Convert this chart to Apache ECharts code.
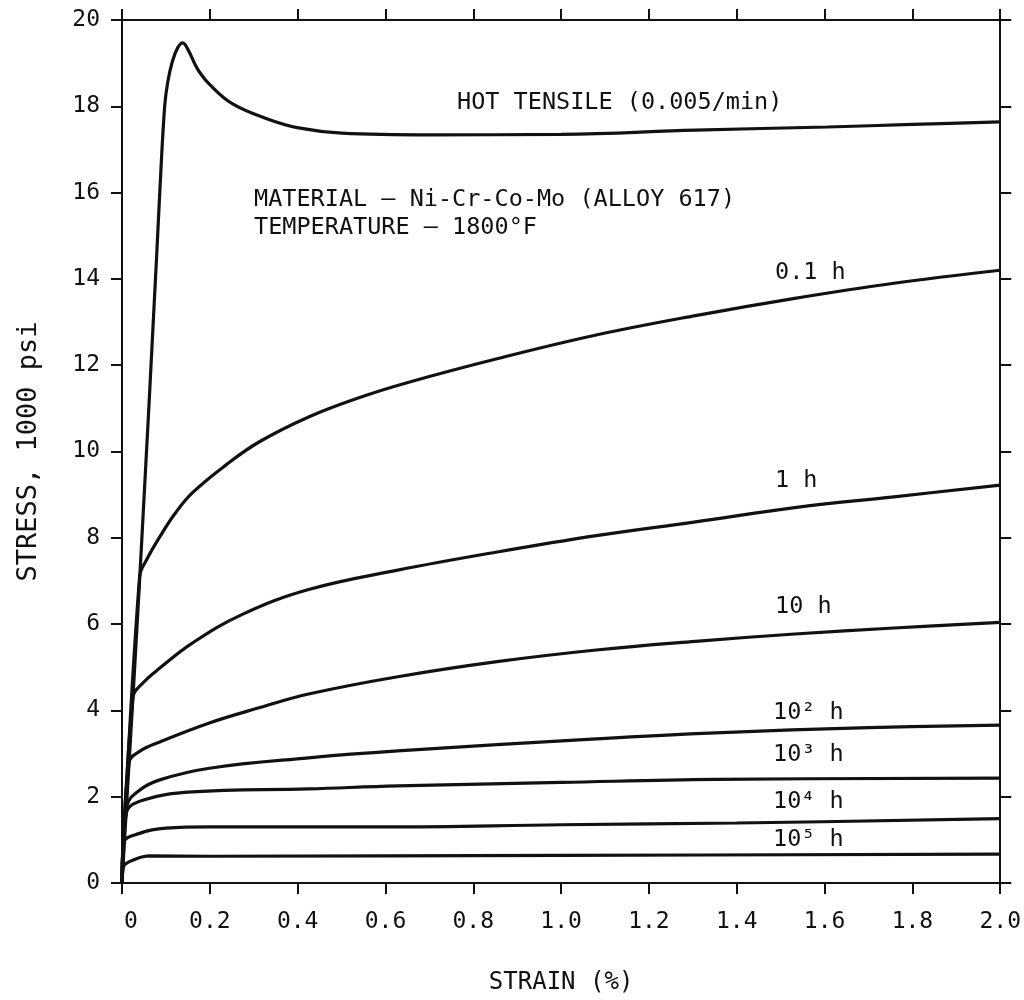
<!DOCTYPE html>
<html>
<head>
<meta charset="utf-8">
<script src="https://cdn.jsdelivr.net/npm/echarts@6/dist/echarts.min.js"></script>
<style>
html,body{margin:0;padding:0;background:#fff;}
#chart{width:1024px;height:1000px;}
</style>
</head>
<body>
<div id="chart"></div>
<script>
// ---- data (strain %, stress 1000 psi) ----
const hotTensile = [[0,0],[0.041,7.18],[0.079,14.55],[0.086,16.0],[0.097,17.98],[0.104,18.55],[0.115,19.05],[0.127,19.36],[0.138,19.47],[0.152,19.28],[0.165,19.0],[0.176,18.8],[0.2,18.5],[0.251,18.06],[0.328,17.72],[0.402,17.5],[0.5,17.38],[0.7,17.34],[1.0,17.35],[1.306,17.45],[1.607,17.52],[1.8,17.58],[2.0,17.64]];
const h0_1 = [[0,0],[0.04,7.1],[0.056,7.49],[0.086,8.02],[0.12,8.55],[0.16,9.04],[0.237,9.69],[0.312,10.22],[0.425,10.8],[0.538,11.24],[0.651,11.6],[0.854,12.15],[1.08,12.7],[1.306,13.15],[1.532,13.55],[1.758,13.9],[2.0,14.2]];
const h1 = [[0,0],[0.025,4.31],[0.047,4.63],[0.086,4.98],[0.16,5.56],[0.273,6.22],[0.425,6.8],[0.628,7.25],[0.854,7.67],[1.08,8.05],[1.306,8.37],[1.532,8.7],[1.758,8.95],[2.0,9.22]];
const h10 = [[0,0],[0.016,2.8],[0.04,3.05],[0.086,3.27],[0.199,3.71],[0.312,4.06],[0.425,4.38],[0.628,4.78],[0.854,5.13],[1.08,5.4],[1.306,5.6],[1.532,5.77],[1.758,5.91],[2.0,6.04]];
const h100 = [[0,0],[0.012,1.8],[0.04,2.15],[0.086,2.39],[0.199,2.66],[0.425,2.9],[0.628,3.06],[1.08,3.34],[1.351,3.48],[1.7,3.6],[2.0,3.66]];
const h1000 = [[0,0],[0.01,1.62],[0.047,1.92],[0.16,2.11],[0.425,2.18],[0.628,2.25],[1.0,2.33],[1.351,2.4],[2.0,2.43]];
const h10000 = [[0,0],[0.004,0.93],[0.04,1.15],[0.1,1.27],[0.2,1.3],[0.6,1.3],[1.0,1.35],[1.4,1.39],[2.0,1.49]];
const h100000 = [[0,0],[0.003,0.37],[0.03,0.55],[0.063,0.63],[0.2,0.62],[1.0,0.64],[2.0,0.67]];

const curveNames = ['HOT TENSILE','0.1 h','1 h','10 h','10² h','10³ h','10⁴ h','10⁵ h'];
const curveData = [hotTensile,h0_1,h1,h10,h100,h1000,h10000,h100000];

const curveLabels = ['0.1 h','1 h','10 h','10² h','10³ h','10⁴ h','10⁵ h'];
const noteLines = ['HOT TENSILE (0.005/min)','MATERIAL — Ni-Cr-Co-Mo (ALLOY 617)','TEMPERATURE — 1800°F'];
const xAxisTitle = 'STRAIN (%)';
const yAxisTitle = 'STRESS, 1000 psi';

// ---- layout / style ----
const FONT = '"DejaVu Sans Mono", "Liberation Mono", monospace';
const INK = '#111';
const labelPos = [[775,273],[775,481],[775,607],[773,713],[773,755],[773,802],[773,840]];
const notePos = [[457,103],[254,200],[254,228]];

const chart = echarts.init(document.getElementById('chart'), null, {renderer:'canvas'});

function axisBase(){
  return {
    type:'value',
    axisLine:{show:true, onZero:false, lineStyle:{color:INK, width:2}},
    axisTick:{show:true, inside:false, length:11, lineStyle:{color:INK, width:2}},
    splitLine:{show:false}
  };
}

const series = curveData.map((d,i)=>({
  name: curveNames[i],
  type:'line',
  data:d,
  showSymbol:false,
  smooth:0.4,
  lineStyle:{color:INK, width:3.2},
  animation:false,
  xAxisIndex:0, yAxisIndex:0,
  z:3
}));

const graphics = [];
curveLabels.forEach((t,i)=>{
  graphics.push({type:'text', left:labelPos[i][0], top:labelPos[i][1]-12,
    style:{text:t, font:'23.5px '+FONT, fill:INK}});
});
noteLines.forEach((t,i)=>{
  graphics.push({type:'text', left:notePos[i][0], top:notePos[i][1]-12,
    style:{text:t, font:'23.5px '+FONT, fill:INK}});
});

chart.setOption({
  backgroundColor:'#fff',
  animation:false,
  grid:{left:122, right:17, top:20, bottom:117, containLabel:false},
  xAxis:[
    Object.assign(axisBase(), {
      position:'bottom', min:0, max:2, interval:0.2,
      name:xAxisTitle, nameLocation:'middle', nameGap:88,
      nameTextStyle:{fontFamily:FONT, fontSize:24, color:INK},
      axisLabel:{margin:28, fontFamily:FONT, fontSize:23, color:INK,
        formatter:v=> v===0 ? '{z|0}' : v.toFixed(1),
        rich:{z:{fontFamily:FONT, fontSize:23, color:INK, padding:[0,0,0,18]}}}
    }),
    Object.assign(axisBase(), {
      position:'top', min:0, max:2, interval:0.2,
      axisLabel:{show:false}
    })
  ],
  yAxis:[
    Object.assign(axisBase(), {
      position:'left', min:0, max:20, interval:2,
      name:yAxisTitle, nameLocation:'middle', nameGap:80, nameRotate:90,
      nameTextStyle:{fontFamily:FONT, fontSize:27, color:INK},
      axisLabel:{margin:22, fontFamily:FONT, fontSize:23, color:INK}
    }),
    Object.assign(axisBase(), {
      position:'right', min:0, max:20, interval:2,
      axisLabel:{show:false}
    })
  ],
  series:series,
  graphic:graphics
});
</script>
</body>
</html>
